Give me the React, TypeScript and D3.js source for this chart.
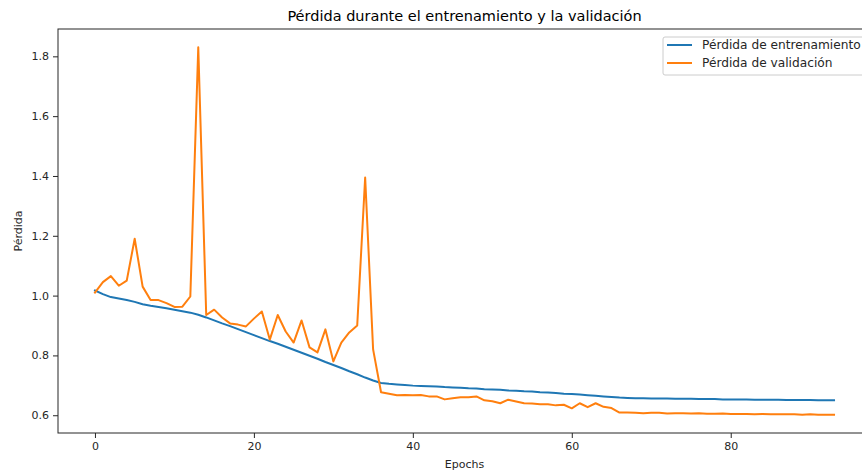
import { useEffect, useRef } from "react"
import * as d3 from "d3"

const title = "Pérdida durante el entrenamiento y la validación"
const xLabel = "Epochs"
const yLabel = "Pérdida"
const seriesNames = ["Pérdida de entrenamiento", "Pérdida de validación"]
const colors = ["#1f77b4", "#ff7f0e"]
const xTicks = [0, 20, 40, 60, 80]
const yTicks = [0.6, 0.8, 1.0, 1.2, 1.4, 1.6, 1.8]

// one value per epoch, 0..93
const trainLoss = [
  1.017, 1.005, 0.995, 0.99, 0.985, 0.979, 0.971, 0.966, 0.962, 0.958,
  0.953, 0.948, 0.943, 0.936, 0.927, 0.917, 0.907, 0.898, 0.888, 0.878,
  0.868, 0.858, 0.848, 0.839, 0.829, 0.819, 0.809, 0.799, 0.789, 0.778,
  0.768, 0.758, 0.747, 0.737, 0.726, 0.716, 0.708, 0.705, 0.703, 0.701,
  0.699, 0.698, 0.697, 0.696, 0.694, 0.693, 0.692, 0.69, 0.689, 0.687,
  0.686, 0.685, 0.683, 0.682, 0.68, 0.679, 0.677, 0.676, 0.674, 0.672,
  0.671, 0.669, 0.667, 0.665, 0.663, 0.661, 0.659, 0.658, 0.657, 0.657,
  0.656, 0.656, 0.656, 0.655, 0.655, 0.655, 0.654, 0.654, 0.654, 0.653,
  0.653, 0.653, 0.653, 0.652, 0.652, 0.652, 0.652, 0.651, 0.651, 0.651,
  0.651, 0.65, 0.65, 0.65,
]

const valLoss = [
  1.01, 1.045, 1.065, 1.033, 1.05, 1.19, 1.03, 0.985, 0.985, 0.975,
  0.962, 0.963, 0.997, 1.83, 0.935, 0.953, 0.927, 0.907, 0.903, 0.897,
  0.923, 0.947, 0.853, 0.935, 0.88, 0.843, 0.917, 0.827, 0.81, 0.887,
  0.78, 0.843, 0.877, 0.9, 1.395, 0.82, 0.677, 0.672, 0.667, 0.668,
  0.667, 0.668, 0.663, 0.663, 0.653, 0.657, 0.66, 0.66, 0.663, 0.65,
  0.647, 0.64, 0.652, 0.646, 0.64, 0.639, 0.637, 0.637, 0.633, 0.635,
  0.623, 0.64, 0.627, 0.64, 0.628, 0.624, 0.609, 0.609, 0.608, 0.607,
  0.608, 0.608, 0.606, 0.607, 0.607, 0.606, 0.607, 0.605, 0.605, 0.606,
  0.604, 0.604, 0.604, 0.603, 0.604, 0.603, 0.603, 0.603, 0.603, 0.602,
  0.603, 0.602, 0.602, 0.602,
]

const width = 862
const height = 471
const margin = { top: 29, right: -9, bottom: 38, left: 58 }
const font = "DejaVu Sans, sans-serif"
const ink = "#262626"

export default function App() {
  const svgRef = useRef<SVGSVGElement>(null)

  useEffect(() => {
    if (!svgRef.current) return
    const svg = d3.select(svgRef.current)
    svg.selectAll("*").remove()

    const all = [...trainLoss, ...valLoss]
    const n = trainLoss.length - 1
    const yMin = d3.min(all) as number
    const yMax = d3.max(all) as number
    const xPad = n * 0.05
    const yPad = (yMax - yMin) * 0.05

    const x = d3
      .scaleLinear()
      .domain([-xPad, n + xPad])
      .range([margin.left, width - margin.right])
    const y = d3
      .scaleLinear()
      .domain([yMin - yPad, yMax + yPad])
      .range([height - margin.bottom, margin.top])

    // series
    const line = d3
      .line<number>()
      .x((_, i) => x(i))
      .y((d) => y(d))

    ;[trainLoss, valLoss].forEach((s, k) => {
      svg
        .append("path")
        .datum(s)
        .attr("fill", "none")
        .attr("stroke", colors[k])
        .attr("stroke-width", 2)
        .attr("stroke-linejoin", "round")
        .attr("stroke-linecap", "square")
        .attr("d", line)
    })

    // axes
    const xAxis = svg
      .append("g")
      .attr("transform", `translate(0,${height - margin.bottom})`)
      .call(d3.axisBottom(x).tickValues(xTicks).tickSize(5).tickPadding(4).tickFormat(d3.format("d")))
    const yAxis = svg
      .append("g")
      .attr("transform", `translate(${margin.left},0)`)
      .call(d3.axisLeft(y).tickValues(yTicks).tickSize(5).tickPadding(4).tickFormat(d3.format(".1f")))

    ;[xAxis, yAxis].forEach((g) => {
      g.select(".domain").remove()
      g.selectAll("line").attr("stroke", ink).attr("stroke-width", 1)
      g.selectAll("text").attr("fill", ink).attr("font-family", font).attr("font-size", 11)
    })

    // spines
    svg
      .append("rect")
      .attr("x", margin.left)
      .attr("y", margin.top)
      .attr("width", width - margin.right - margin.left)
      .attr("height", height - margin.bottom - margin.top)
      .attr("fill", "none")
      .attr("stroke", ink)
      .attr("stroke-width", 1)

    // labels
    svg
      .append("text")
      .attr("x", (margin.left + width - margin.right) / 2)
      .attr("y", 21)
      .attr("text-anchor", "middle")
      .attr("font-family", font)
      .attr("font-size", 14.5)
      .attr("fill", "#000")
      .text(title)

    svg
      .append("text")
      .attr("x", (margin.left + width - margin.right) / 2)
      .attr("y", 468)
      .attr("text-anchor", "middle")
      .attr("font-family", font)
      .attr("font-size", 11)
      .attr("fill", ink)
      .text(xLabel)

    svg
      .append("text")
      .attr("transform", `translate(22,${(margin.top + height - margin.bottom) / 2}) rotate(-90)`)
      .attr("text-anchor", "middle")
      .attr("font-family", font)
      .attr("font-size", 11)
      .attr("fill", ink)
      .text(yLabel)

    // legend
    const legend = svg.append("g").attr("transform", "translate(663,37)")
    legend
      .append("rect")
      .attr("width", 210)
      .attr("height", 38)
      .attr("rx", 2)
      .attr("fill", "white")
      .attr("fill-opacity", 0.8)
      .attr("stroke", "#cccccc")
    seriesNames.forEach((name, i) => {
      const row = legend.append("g").attr("transform", `translate(0,${8 + i * 18})`)
      row
        .append("line")
        .attr("x1", 4)
        .attr("x2", 29)
        .attr("stroke", colors[i])
        .attr("stroke-width", 2)
      row
        .append("text")
        .attr("x", 39)
        .attr("dy", "0.35em")
        .attr("font-family", font)
        .attr("font-size", 12.2)
        .attr("fill", ink)
        .text(name)
    })
  }, [])

  return (
    <svg
      ref={svgRef}
      width={width}
      height={height}
      style={{ position: "absolute", left: 0, top: 0, background: "white" }}
    />
  )
}
